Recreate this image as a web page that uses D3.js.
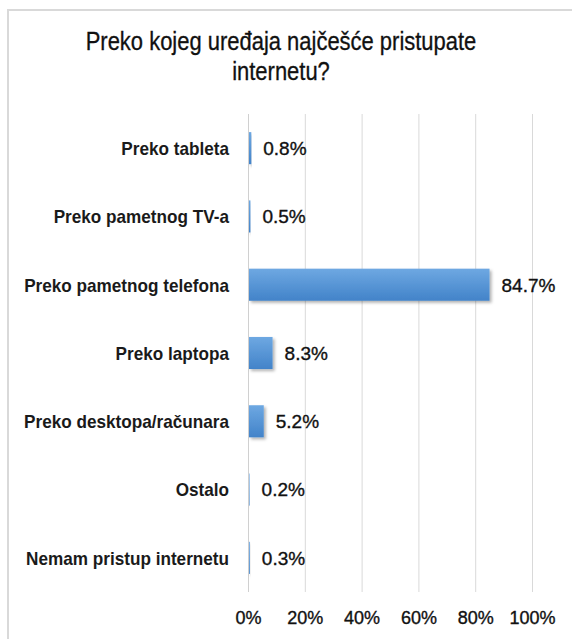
<!DOCTYPE html>
<html><head><meta charset="utf-8">
<script src="https://cdn.jsdelivr.net/npm/d3@7"></script>
<style>body{margin:0;background:#fff}svg{display:block}</style>
</head><body>
<svg id="c" width="572" height="639"></svg>
<script>
const categories = ["Preko tableta","Preko pametnog TV-a","Preko pametnog telefona","Preko laptopa","Preko desktopa/računara","Ostalo","Nemam pristup internetu"];
const values = [0.8,0.5,84.7,8.3,5.2,0.2,0.3];
const tickValues = [0,20,40,60,80,100];
const titleLines = ["Preko kojeg uređaja najčešće pristupate","internetu?"];

const svg = d3.select("#c");
const defs = svg.append("defs");
const g1 = defs.append("linearGradient").attr("id","bg").attr("x1",0).attr("y1",0).attr("x2",0).attr("y2",1);
g1.append("stop").attr("offset","0%").attr("stop-color","#6ea8e2");
g1.append("stop").attr("offset","100%").attr("stop-color","#4283c9");
const f = defs.append("filter").attr("id","sh").attr("x","-20%").attr("y","-30%").attr("width","150%").attr("height","180%");
f.append("feDropShadow").attr("dx",2).attr("dy",2).attr("stdDeviation",1.6).attr("flood-color","#000").attr("flood-opacity",0.3);

svg.append("rect").attr("x",8).attr("y",10).attr("width",600).attr("height",680)
  .attr("fill","#fff").attr("stroke","#d9d9d9").attr("stroke-width",2);

const x = d3.scaleLinear().domain([0,100]).range([248,532]);
const y = d3.scaleBand().domain(categories).range([114,592]).paddingInner(0.53).paddingOuter(0.265);

// gridlines
svg.append("g").selectAll("line").data(tickValues.slice(1)).join("line")
  .attr("x1",d=>x(d)+0.5).attr("x2",d=>x(d)+0.5).attr("y1",114).attr("y2",592)
  .attr("stroke","#d9d9d9").attr("stroke-width",1);
svg.append("line").attr("x1",x(0)+0.5).attr("x2",x(0)+0.5).attr("y1",114).attr("y2",592)
  .attr("stroke","#d0d0d0").attr("stroke-width",1);

// bars
svg.append("g").selectAll("rect").data(values).join("rect")
  .attr("x",x(0)+1).attr("y",(d,i)=>y(categories[i]))
  .attr("width",d=>Math.max(0,x(d)-x(0)))
  .attr("height",y.bandwidth())
  .attr("fill","url(#bg)").attr("filter","url(#sh)");

// value labels
svg.append("g").selectAll("text").data(values).join("text")
  .attr("x",d=>x(d)+13).attr("y",(d,i)=>y(categories[i])+y.bandwidth()/2)
  .attr("dy","0.36em")
  .attr("font-family","Liberation Sans, Arial, sans-serif").attr("font-size",19)
  .attr("fill","#111").attr("stroke","#111").attr("stroke-width",0.35)
  .text(d=>d.toFixed(1)+"%");

// category labels (condensed via horizontal scale)
const cl = svg.append("g").selectAll("text").data(categories).join("text")
  .attr("text-anchor","end").attr("dy","0.36em")
  .attr("font-family","Liberation Sans, Arial, sans-serif").attr("font-weight","bold")
  .attr("font-size",19).attr("fill","#1a1a1a").text(d=>d);
const maxW = d3.max(cl.nodes(), n=>n.getComputedTextLength());
const kc = 205/maxW;
cl.attr("transform",d=>`translate(229,${y(d)+y.bandwidth()/2}) scale(${kc},1)`);

// x axis tick labels
const xAxis = d3.axisBottom(x).tickValues(tickValues).tickFormat(d=>d+"%").tickSize(0).tickPadding(0);
const ax = svg.append("g").attr("transform","translate(0,611)").call(xAxis);
ax.select(".domain").remove();
ax.selectAll("text").attr("font-family","Liberation Sans, Arial, sans-serif").attr("font-size",18)
  .attr("fill","#111").attr("stroke","#111").attr("stroke-width",0.35).attr("dy","0.71em");

// title (condensed)
const tl = svg.append("g").selectAll("text").data(titleLines).join("text")
  .attr("text-anchor","middle")
  .attr("font-family","Liberation Sans, Arial, sans-serif")
  .attr("font-size",25).attr("fill","#111").attr("stroke","#111").attr("stroke-width",0.3).text(d=>d);
const kt = 391/tl.nodes()[0].getComputedTextLength();
tl.attr("transform",(d,i)=>`translate(281,${50+i*30}) scale(${kt},1)`);
</script>
</body></html>
